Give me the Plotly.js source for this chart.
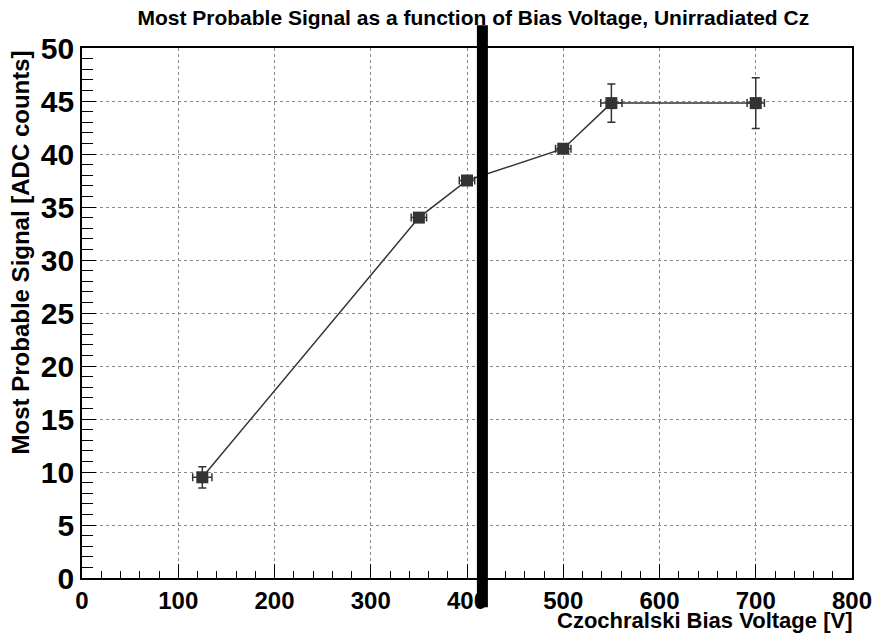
<!DOCTYPE html>
<html>
<head>
<meta charset="utf-8">
<script src="https://cdn.plot.ly/plotly-3.0.1.min.js"></script>
<style>html,body{margin:0;padding:0;background:#fff;}#chart{width:883px;height:634px;}</style>
</head>
<body>
<div id="chart"></div>
<script>
// Data
const biasVoltage = [125, 350, 400, 500, 550, 700];
const mostProbableSignal = [9.5, 34.0, 37.5, 40.5, 44.8, 44.8];
const signalError = [1.0, 0.4, 0.4, 0.4, 1.8, 2.4];
const voltageError = [10, 8, 8, 8, 11, 9];
const xTickValues = [0, 100, 200, 300, 400, 500, 600, 700, 800];
const yTickValues = [0, 5, 10, 15, 20, 25, 30, 35, 40, 45, 50];
const markerLineX = 416;

const FONT = '"Liberation Sans", Arial, Helvetica, sans-serif';
const dark = '#333333';

const trace = {
  x: biasVoltage,
  y: mostProbableSignal,
  type: 'scatter',
  mode: 'lines+markers',
  line: {color: dark, width: 1.5},
  marker: {symbol: 'square', size: 12, color: dark},
  error_y: {type: 'data', array: signalError, visible: true, color: dark, thickness: 1.5, width: 4},
  error_x: {type: 'data', array: voltageError, visible: true, color: dark, thickness: 1.5, width: 4},
  hoverinfo: 'x+y'
};

const layout = {
  width: 883,
  height: 634,
  margin: {l: 82, r: 31, t: 48, b: 56},
  paper_bgcolor: '#ffffff',
  plot_bgcolor: '#ffffff',
  showlegend: false,
  font: {family: FONT, color: '#000'},
  title: {
    text: '<b>Most Probable Signal as a function of Bias Voltage, Unirradiated Cz</b>',
    font: {family: FONT, size: 21, color: '#000'},
    xref: 'container', x: 0.536, xanchor: 'center',
    yref: 'container', y: 0.972, yanchor: 'middle'
  },
  xaxis: {
    range: [0, 800],
    tickvals: xTickValues,
    ticktext: xTickValues.map(v => '<b>' + v + '</b>'),
    ticks: 'inside', ticklen: 14, tickwidth: 1, tickcolor: '#000',
    minor: {dtick: 20, tick0: 0, ticks: 'inside', ticklen: 7, tickwidth: 1, tickcolor: '#000', showgrid: false},
    tickfont: {family: FONT, size: 24, color: '#000'},
    showgrid: true, gridcolor: '#888888', griddash: 'dot', gridwidth: 1,
    showline: true, linecolor: '#000', linewidth: 1.8, mirror: true,
    zeroline: false, fixedrange: true
  },
  yaxis: {
    range: [0, 50],
    tickvals: yTickValues,
    ticktext: yTickValues.map(v => '<b>' + v + '</b>'),
    ticks: 'inside', ticklen: 14, tickwidth: 1, tickcolor: '#000',
    minor: {dtick: 1, tick0: 0, ticks: 'inside', ticklen: 11, tickwidth: 1, tickcolor: '#000', showgrid: false},
    tickfont: {family: FONT, size: 30, color: '#000'},
    showgrid: true, gridcolor: '#888888', griddash: 'dot', gridwidth: 1,
    showline: true, linecolor: '#000', linewidth: 1.8, mirror: true,
    zeroline: false, fixedrange: true
  },
  annotations: [
    {
      text: '<b>Czochralski Bias Voltage [V]</b>',
      xref: 'paper', yref: 'paper', x: 1.003, y: -0.081,
      xanchor: 'right', yanchor: 'middle', showarrow: false,
      font: {family: FONT, size: 22, color: '#000'}
    },
    {
      text: '<b>Most Probable Signal [ADC counts]</b>',
      xref: 'paper', yref: 'paper', x: -0.08, y: 1.0,
      xanchor: 'center', yanchor: 'top', textangle: -90, showarrow: false,
      font: {family: FONT, size: 24, color: '#000'}
    }
  ],
  shapes: [
    {
      type: 'line', xref: 'x', yref: 'paper',
      x0: markerLineX, x1: markerLineX, y0: 1.043, y1: -0.055,
      line: {color: '#000', width: 11}
    }
  ]
};

Plotly.newPlot('chart', [trace], layout, {displayModeBar: false, staticPlot: true});
</script>
</body>
</html>
